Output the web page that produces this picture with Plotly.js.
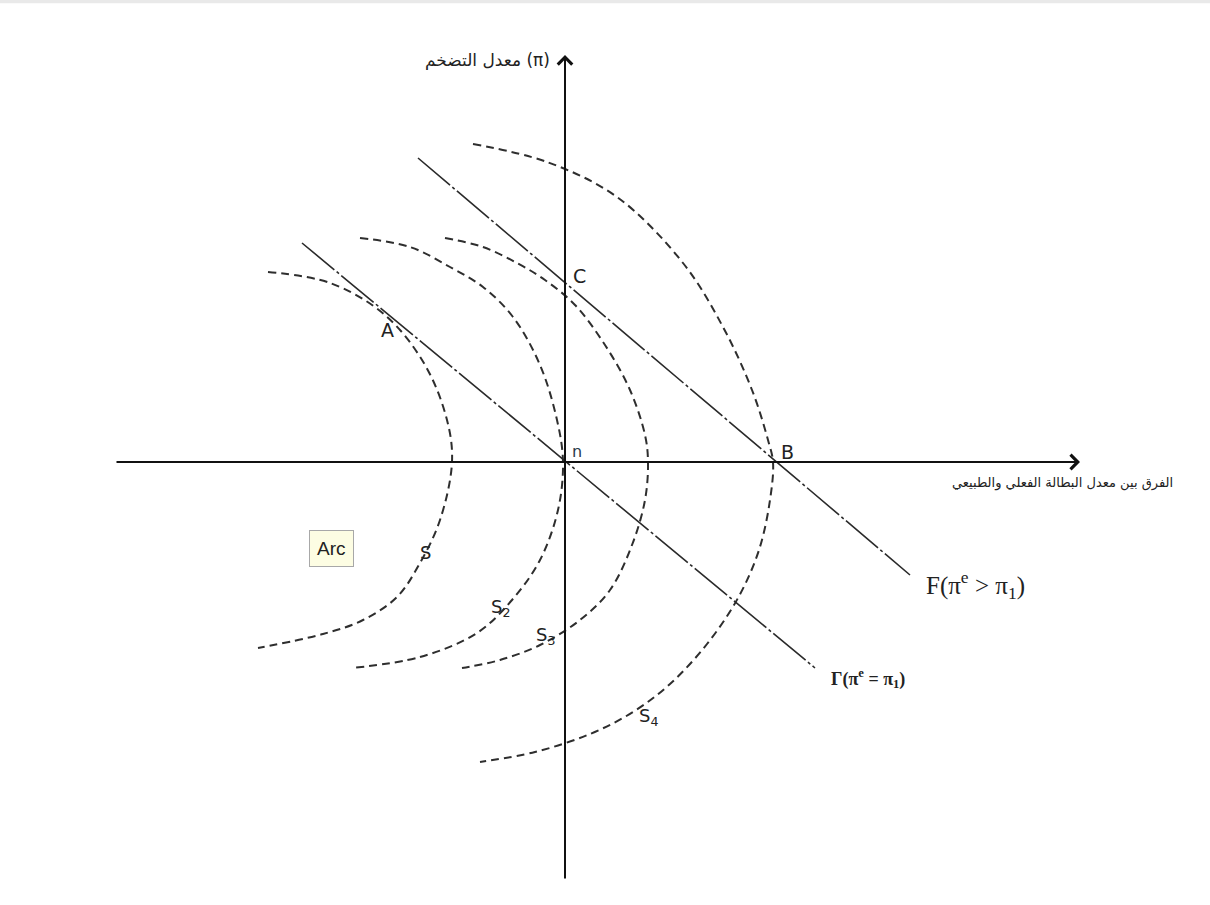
<!DOCTYPE html>
<html>
<head>
<meta charset="utf-8">
<script src="https://cdn.plot.ly/plotly-3.0.1.min.js"></script>
<style>
html,body{margin:0;padding:0;background:#fff;}
#chart{width:1210px;height:905px;}
</style>
</head>
<body>
<div id="chart"></div>
<script>
// Diagram coordinates: origin at the axes crossing, x to the right, y upward.
const axisX = [-450, 515];        // horizontal axis extent
const axisY = [-418, 407];        // vertical axis extent

// Iso-curves S1..S4
const s1x = [-297, -235, -180, -140, -118, -113, -125, -145, -168, -202, -242, -307];
const s1y = [190, 179, 147, 97, 42, 0, -58, -101, -135, -158, -172, -186];
const s2x = [-205, -155, -115, -82, -52, -25, -8, -2, -7, -25, -53, -88, -145, -213];
const s2y = [224, 215, 195, 175, 145, 97, 42, 0, -48, -98, -138, -171, -195, -206];
const s3x = [-120, -82, -48, -20, 10, 40, 65, 80, 83, 80, 67, 45, 15, -25, -65, -103];
const s3y = [224, 215, 199, 182, 157, 117, 72, 27, 0, -38, -83, -128, -158, -183, -198, -206];
const s4x = [-92, -18, 52, 118, 158, 187, 203, 208, 205, 194, 173, 142, 105, 68, 25, -30, -85];
const s4y = [318, 300, 265, 199, 135, 72, 22, 0, -38, -88, -136, -182, -222, -250, -272, -290, -300];

// Straight lines
const gammaX = [-263, 250];
const gammaY = [219, -206];
const fX = [-147, 345];
const fY = [304, -113];

// Labels
const curveLabels = ['S', 'S<sub>2</sub>', 'S<sub>3</sub>', 'S<sub>4</sub>'];
const curveLabelX = [-140, -65, -20, 83];
const curveLabelY = [-90, -146, -174, -255];
const pointLabels = ['C', 'A', 'n', 'B'];
const pointLabelX = [14, -178, 12, 222];
const pointLabelY = [186, 132, 11, 10];
const yTitle = 'معدل التضخم (π)';
const xTitle = 'الفرق بين معدل البطالة الفعلي والطبيعي';
const fLabel = 'F(π<sup>e</sup> > π<sub>1</sub>)';
const gLabel = 'Γ(π<sup>e</sup> = π<sub>1</sub>)';
const boxLabel = 'Arc';

const arcStyle = {color: '#2e2e2e', width: 2, dash: '8px,5px'};
const lineStyle = {color: '#2a2a2a', width: 1.6, dash: '42px,3px,3px,3px'};

const traces = [
  {x: s1x, y: s1y, mode: 'lines', line: Object.assign({shape: 'spline'}, arcStyle), hoverinfo: 'skip'},
  {x: s2x, y: s2y, mode: 'lines', line: Object.assign({shape: 'spline'}, arcStyle), hoverinfo: 'skip'},
  {x: s3x, y: s3y, mode: 'lines', line: Object.assign({shape: 'spline'}, arcStyle), hoverinfo: 'skip'},
  {x: s4x, y: s4y, mode: 'lines', line: Object.assign({shape: 'spline'}, arcStyle), hoverinfo: 'skip'},
  {x: gammaX, y: gammaY, mode: 'lines', line: lineStyle, hoverinfo: 'skip'},
  {x: fX, y: fY, mode: 'lines', line: lineStyle, hoverinfo: 'skip'}
];

const annotations = [];
// axes as arrows
annotations.push({x: axisX[1], y: 0, ax: axisX[0], ay: 0, xref: 'x', yref: 'y', axref: 'x', ayref: 'y',
  showarrow: true, arrowhead: 4, arrowsize: 1.4, arrowwidth: 2, arrowcolor: '#111', text: ''});
annotations.push({x: 0, y: axisY[1], ax: 0, ay: axisY[0], xref: 'x', yref: 'y', axref: 'x', ayref: 'y',
  showarrow: true, arrowhead: 4, arrowsize: 1.4, arrowwidth: 2, arrowcolor: '#111', text: ''});

for (let i = 0; i < curveLabels.length; i++) {
  annotations.push({x: curveLabelX[i], y: curveLabelY[i], xref: 'x', yref: 'y', showarrow: false,
    text: curveLabels[i], font: {family: 'DejaVu Sans', size: 18, color: '#222'}});
}
for (let i = 0; i < pointLabels.length; i++) {
  annotations.push({x: pointLabelX[i], y: pointLabelY[i], xref: 'x', yref: 'y', showarrow: false,
    text: pointLabels[i], font: {family: 'DejaVu Sans', size: i === 2 ? 16 : 19, color: i === 2 ? '#2a3a4a' : '#222'}});
}
annotations.push({x: 410, y: -123, xref: 'x', yref: 'y', showarrow: false, text: fLabel,
  font: {family: 'Liberation Serif', size: 25, color: '#222'}});
annotations.push({x: 303, y: -216, xref: 'x', yref: 'y', showarrow: false, text: '<b>' + gLabel + '</b>',
  font: {family: 'Liberation Serif', size: 18, color: '#222'}});
annotations.push({x: -234, y: -86, xref: 'x', yref: 'y', showarrow: false, text: boxLabel,
  font: {family: 'Liberation Sans', size: 19, color: '#222'},
  bgcolor: '#fdfde3', bordercolor: '#a8a8a8', borderwidth: 1, borderpad: 7});
annotations.push({x: -78, y: 402, xref: 'x', yref: 'y', showarrow: false, text: yTitle,
  font: {family: 'DejaVu Sans', size: 17, color: '#222'}});
annotations.push({x: 497, y: -21, xref: 'x', yref: 'y', showarrow: false, text: xTitle,
  font: {family: 'DejaVu Sans', size: 13, color: '#222'}});

const layout = {
  width: 1210, height: 905,
  margin: {l: 0, r: 0, t: 0, b: 0},
  paper_bgcolor: '#fff', plot_bgcolor: '#fff',
  showlegend: false,
  xaxis: {range: [-565, 645], visible: false, fixedrange: true},
  yaxis: {range: [-443, 462], visible: false, fixedrange: true},
  annotations: annotations,
  shapes: [
    {type: 'rect', xref: 'paper', yref: 'paper', x0: 0, x1: 1, y0: 0.9965, y1: 1,
     fillcolor: '#e9e9e9', line: {width: 0}, layer: 'above'}
  ]
};

Plotly.newPlot('chart', traces, layout, {staticPlot: true, displayModeBar: false});
</script>
</body>
</html>
